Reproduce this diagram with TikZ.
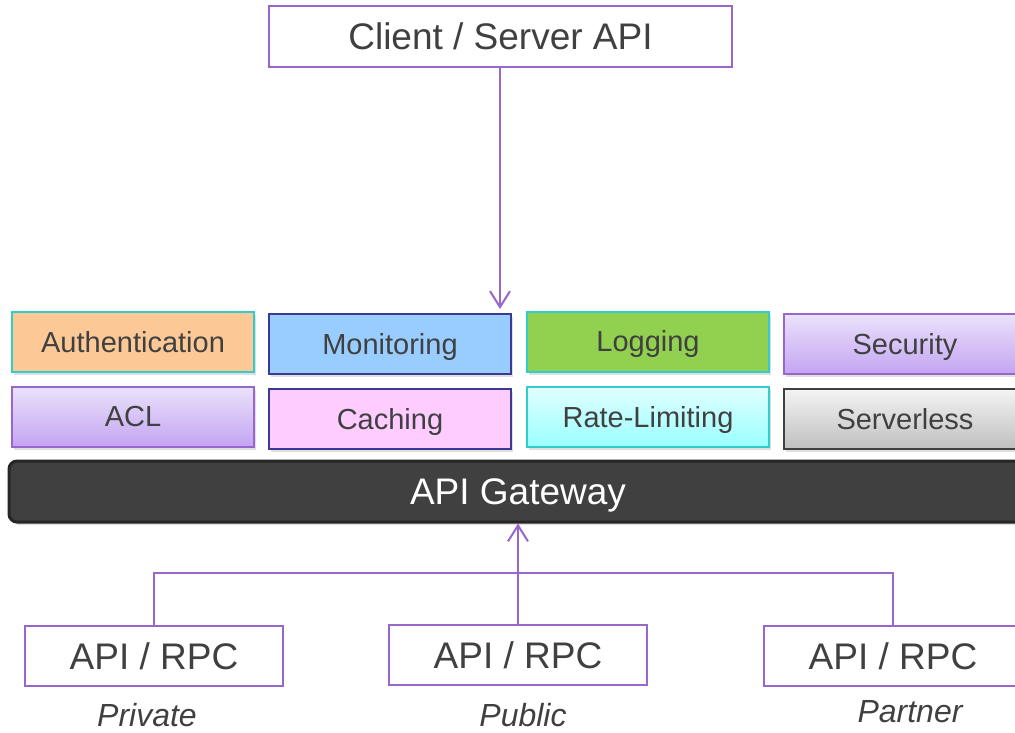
\documentclass[tikz,border=0pt]{standalone}
\usepackage{xcolor}
\usepackage{fontspec}
\setmainfont{Liberation Sans}
\usepackage{tikz}
\usetikzlibrary{arrows.meta,shadows}
\usetikzlibrary{positioning}

\definecolor{linepurple}{HTML}{9966CC}
\definecolor{tealline}{HTML}{33CCCC}
\definecolor{navyline}{HTML}{3B3896}
\definecolor{textgray}{HTML}{404040}
\definecolor{authfill}{HTML}{FCC896}
\definecolor{monfill}{HTML}{99CCFF}
\definecolor{logfill}{HTML}{92D050}
\definecolor{cachefill}{HTML}{FFCCFF}
\definecolor{lavtop}{HTML}{EAE2FA}
\definecolor{lavbot}{HTML}{C4A4F2}
\definecolor{cyantop}{HTML}{E2FFFF}
\definecolor{cyanbot}{HTML}{99FFFF}
\definecolor{graytop}{HTML}{F4F4F4}
\definecolor{graybot}{HTML}{BFBFBF}
\definecolor{gatefill}{HTML}{404040}
\definecolor{gateline}{HTML}{262626}

\begin{document}
\begin{tikzpicture}[x=0.5pt,y=-0.5pt,
    apibox/.style={draw=linepurple, line width=1pt, fill=white, inner sep=0pt,
      minimum width=129pt, minimum height=30pt, text=textgray,
      text height=13.2pt, text depth=0pt,
      font=\fontsize{18.5}{20}\selectfont},
    feat/.style={line width=1pt, inner sep=0pt, minimum width=121pt,
      minimum height=30pt, text=textgray, font=\fontsize{14.5}{16}\selectfont,
      text height=10.4pt, text depth=0pt,
      drop shadow={shadow xshift=1pt, shadow yshift=-1.5pt, opacity=0.25, fill=gray}},
    lav/.style={feat, draw=linepurple, top color=lavtop, bottom color=lavbot},
    caption/.style={text=textgray, font=\fontsize{16}{18}\selectfont\itshape},
    link/.style={draw=linepurple, line width=1pt},
    arr/.style={link, -{Straight Barb[length=8pt,width=10pt,line width=1pt]}}]

    \clip (0,0) rectangle (1015,732);

    % client side
    \node[apibox, minimum width=231.5pt, minimum height=30.5pt] (client) at (500.5,36.5) {Client / Server API};

    % features, row 1
    \node[feat, draw=tealline, fill=authfill] (auth) at (133,342) {Authentication};
    \node[feat, draw=navyline, fill=monfill] (monitor) at (390,344) {Monitoring};
    \node[feat, draw=tealline, fill=logfill] (logging) at (648,341.5) {Logging};
    \node[lav] (security) at (905,344) {Security};

    % features, row 2
    \node[lav] (acl) at (133,416.5) {ACL};
    \node[feat, draw=navyline, fill=cachefill] (caching) at (390,419) {Caching};
    \node[feat, draw=tealline, top color=cyantop, bottom color=cyanbot] (ratelim) at (648,417) {Rate-Limiting};
    \node[feat, draw=textgray, top color=graytop, bottom color=graybot] (serverless) at (905,419) {Serverless};

    % gateway
    \node[draw=gateline, line width=1.5pt, fill=gatefill, rounded corners=4pt,
      minimum width=509pt, minimum height=30.5pt, inner sep=0pt, text=white,
      text height=13.2pt, text depth=0pt,
      font=\fontsize{18.5}{20}\selectfont,
      drop shadow={shadow xshift=1pt, shadow yshift=-1.5pt, opacity=0.25, fill=gray}]
      (gateway) at (518,491.5) {API Gateway};

    % backends
    \node[apibox] (private) at (154,656) {API / RPC};
    \node[apibox] (public) at (518,655) {API / RPC};
    \node[apibox] (partner) at (893,656) {API / RPC};

    \node[caption] (privlabel) at (147,715) {Private};
    \node[caption] (publabel) at (523,715) {Public};
    \node[caption] (partlabel) at (910,712) {Partner};

    % connectors
    \draw[arr, shorten >=2pt] (client.south -| 500,0) -- (monitor.north -| 500,0);
    \draw[link] (private.north) -- ++(0,-52) -| (partner.north);
    \draw[arr] (public.north) -- (public.north |- gateway.south);
  \end{tikzpicture}
\end{document}
